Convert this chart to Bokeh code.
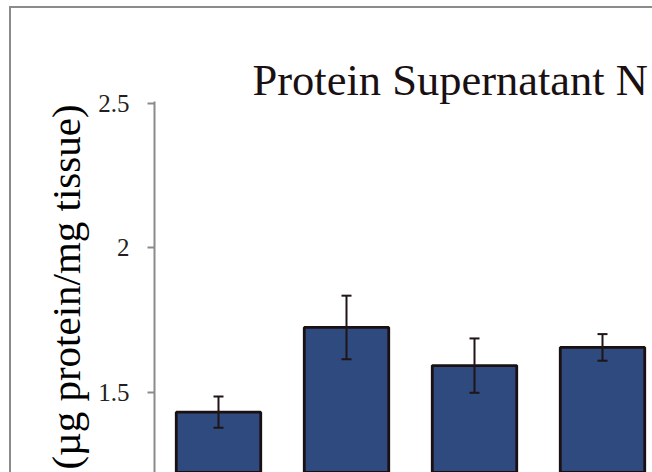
from bokeh.plotting import figure
from bokeh.models import (ColumnDataSource, Range1d, FixedTicker, Whisker, TeeHead, Title)
from bokeh.embed import file_html
from bokeh.resources import INLINE

# ---- data ----
categories = ["1", "2", "3", "4"]
means = [1.431, 1.724, 1.592, 1.655]
errors = [0.054, 0.110, 0.094, 0.046]
tick_values = [1.5, 2.0, 2.5]
tick_labels = ["1.5", "2", "2.5"]
title_text = "Protein Supernatant N"
y_label = "(\u00b5g protein/mg tissue)"

x_pos = [i + 0.5 for i in range(len(categories))]
src = ColumnDataSource(dict(
    x=x_pos,
    top=means,
    upper=[m + e for m, e in zip(means, errors)],
    lower=[m - e for m, e in zip(means, errors)],
))

FONT = "Liberation Serif"
TXT = "#231f20"
GRAY = "#8a8c87"

p = figure(width=652, height=472, output_backend="svg", toolbar_location=None,
           x_range=Range1d(0, 3.8906), y_range=Range1d(1.22214, 2.50588),
           min_border_left=154, min_border_right=0, min_border_top=101,
           min_border_bottom=0, x_axis_location=None, title=None)
p.outline_line_color = None
p.grid.visible = False
p.background_fill_color = "white"
p.border_fill_color = None
p.styles = {
    "background": (f"linear-gradient({GRAY},{GRAY}) 9px 6px / 2px 100% no-repeat, "
                   f"linear-gradient({GRAY},{GRAY}) 9px 6px / 100% 2px no-repeat, white"),
}

p.vbar(x="x", top="top", bottom=0, width=0.66, source=src,
       fill_color="#2f4a7f", line_color="#1a1012", line_width=2.8)

w = Whisker(base="x", upper="upper", lower="lower", source=src, dimension="height",
            line_color="#1f1416", line_width=2, level="overlay",
            upper_head=TeeHead(size=10, line_color="#1f1416", line_width=2),
            lower_head=TeeHead(size=10, line_color="#1f1416", line_width=2))
p.add_layout(w)

ax = p.yaxis[0]
ax.ticker = FixedTicker(ticks=tick_values)
ax.major_label_overrides = {v: t for v, t in zip(tick_values, tick_labels)}
ax.minor_tick_line_color = None
ax.axis_line_color = GRAY
ax.axis_line_width = 2
ax.major_tick_line_color = GRAY
ax.major_tick_line_width = 2
ax.major_tick_out = 7
ax.major_tick_in = 0
ax.major_label_standoff = 18
ax.major_label_text_font = FONT
ax.major_label_text_font_size = "25px"
ax.major_label_text_color = TXT
ax.axis_label = y_label
ax.axis_label_text_font = FONT
ax.axis_label_text_font_size = "41px"
ax.axis_label_text_font_style = "normal"
ax.axis_label_text_color = "#000000"
ax.axis_label_standoff = 6

t = Title(text=title_text, align="left", offset=98, standoff=-6,
          vertical_align="bottom", text_font=FONT, text_font_size="44.5px",
          text_font_style="normal", text_color="#1a1012")
p.add_layout(t, "above")

open("out.html", "w").write(file_html(p, INLINE))
